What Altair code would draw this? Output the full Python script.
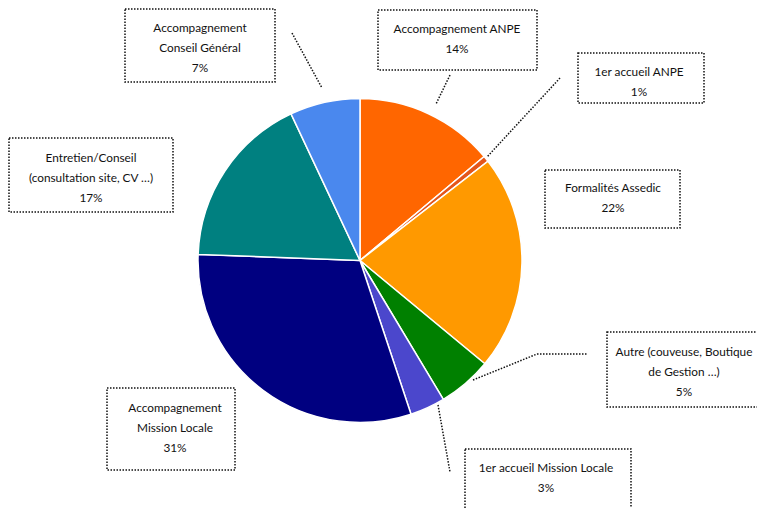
import altair as alt
import pandas as pd

# ---- data ----
categories = [
    "Accompagnement ANPE",
    "1er accueil ANPE",
    "Formalités Assedic",
    "Autre (couveuse, Boutique de Gestion …)",
    "1er accueil Mission Locale",
    "Accompagnement Mission Locale",
    "Entretien/Conseil (consultation site, CV …)",
    "Accompagnement Conseil Général",
]
shares = [13.9, 0.6, 21.5, 5.4, 3.5, 30.7, 17.4, 7.0]
label_text = [
    "Accompagnement ANPE\n14%",
    "1er accueil ANPE\n1%",
    "Formalités Assedic\n22%",
    "Autre (couveuse, Boutique\nde Gestion …)\n5%",
    "1er accueil Mission Locale\n3%",
    "Accompagnement\nMission Locale\n31%",
    "Entretien/Conseil\n(consultation site, CV …)\n17%",
    "Accompagnement\nConseil Général\n7%",
]
colors = ["#FF6600", "#E4561A", "#FF9900", "#008000",
          "#4B47CC", "#000080", "#008080", "#4A88EE"]

# ---- layout (page pixel coordinates) ----
box_x0 = [378, 578, 545, 607, 465, 107, 9, 125]
box_x1 = [537, 704, 680, 780, 631, 235, 173, 275]
box_y0 = [10, 53, 170, 332, 449, 388, 138, 9]
box_y1 = [70, 103, 228, 407, 530, 470, 212, 82]
text_x = [457, 639, 613, 684, 546, 175, 91, 200]
text_y = [29, 72, 188, 352, 468, 408, 158, 28]
lead_x = [292, 450, 560, 473, 537, 438]
lead_y = [33, 75, 78, 380, 354, 405]
lead_x2 = [322, 436, 487, 537, 587, 450]
lead_y2 = [88, 104, 157, 354, 354, 472]

W, H = 749, 500
OFF = 8
CX, CY, R = 360 - OFF, 260.5 - OFF, 162

pie_df = pd.DataFrame({"cat": categories, "share": shares, "idx": list(range(len(categories)))})
box_df = pd.DataFrame({"x0": box_x0, "x1": box_x1, "y0": box_y0, "y1": box_y1,
                       "tx": text_x, "ty": text_y, "label": label_text})
lead_df = pd.DataFrame({"x": lead_x, "y": lead_y, "x2": lead_x2, "y2": lead_y2})

xs = alt.Scale(domain=[OFF, OFF + W], nice=False, zero=False)
ys = alt.Scale(domain=[OFF, OFF + H], nice=False, zero=False, reverse=True)

pie = alt.Chart(pie_df).mark_arc(radius=R, stroke="white", strokeWidth=1.5).encode(
    theta=alt.Theta("share:Q", stack=True),
    order=alt.Order("idx:Q"),
    color=alt.Color("cat:N", scale=alt.Scale(domain=categories, range=colors), legend=None),
    x=alt.value(CX),
    y=alt.value(CY),
)

dash = [1.5, 1.5]

boxes = alt.Chart(box_df).mark_rect(fill="white", stroke="#111111", strokeWidth=1.5,
                                    strokeDash=dash).encode(
    x=alt.X("x0:Q", scale=xs, axis=None),
    x2="x1:Q",
    y=alt.Y("y0:Q", scale=ys, axis=None),
    y2="y1:Q",
)

texts = alt.Chart(box_df).mark_text(align="center", baseline="middle", lineBreak="\n",
                                    lineHeight=20, font="Lato", fontSize=11.8,
                                    color="#111111").encode(
    x=alt.X("tx:Q", scale=xs, axis=None),
    y=alt.Y("ty:Q", scale=ys, axis=None),
    text="label:N",
)

leaders = alt.Chart(lead_df).mark_rule(color="#111111", strokeWidth=1.5, strokeDash=dash).encode(
    x=alt.X("x:Q", scale=xs, axis=None),
    y=alt.Y("y:Q", scale=ys, axis=None),
    x2="x2:Q",
    y2="y2:Q",
)

chart = alt.layer(leaders, pie, boxes, texts).properties(
    width=W, height=H, padding=0, autosize=alt.AutoSizeParams(type="none"),
    background="white",
).configure_view(stroke=None)

chart.save("out.html", embed_options={"renderer": "svg", "actions": False})
